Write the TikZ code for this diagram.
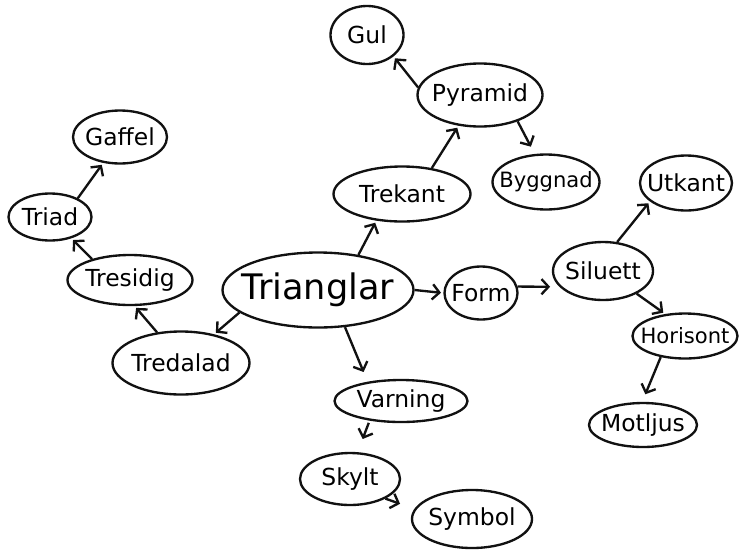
\documentclass[tikz,border=0pt]{standalone}
\usepackage{fontspec}
\setmainfont{DejaVu Sans}
\usetikzlibrary{shapes.geometric, arrows.meta}
\definecolor{inkcolor}{HTML}{111111}

\begin{document}
\begin{tikzpicture}[
  x=0.03cm, y=-0.03cm,
  >={Straight Barb[length=6pt, width=13pt]},
  line width=2pt,
]

\tikzset{
  bubble/.style 2 args={ellipse, draw=inkcolor, inner xsep=-24pt, inner ysep=-9pt,
    minimum width=#1*0.03cm, minimum height=#2*0.03cm,
    font=\fontsize{20}{22}\selectfont},
  tightbubble/.style 2 args={bubble={#1}{#2}, font=\fontsize{18}{20}\selectfont},
  mainbubble/.style 2 args={bubble={#1}{#2}, inner xsep=-40pt, inner ysep=-14pt,
    font=\fontsize{30}{34}\selectfont},
  link/.style={->, inkcolor, shorten >=2pt},
}

\path[use as bounding box, fill=white] (0,0) rectangle (739,553);

% ---------------------------------------------------------------
% Centre and right branch
% ---------------------------------------------------------------
\node[mainbubble={191}{75}]  (trianglar) at (318,290) {Trianglar};
\node[bubble={73}{53}]       (form)      at (481,293) {Form};
\node[bubble={100}{58}]      (siluett)   at (603,271) {Siluett};
\node[bubble={92}{55}]       (utkant)    at (686,183) {Utkant};
\node[tightbubble={105}{45}] (horisont)  at (685,336) {Horisont};
\node[bubble={108}{44}]      (motljus)   at (643,425) {Motljus};

% ---------------------------------------------------------------
% Upper branch
% ---------------------------------------------------------------
\node[bubble={137}{55}]      (trekant) at (402,194) {Trekant};
\node[bubble={125}{63}]      (pyramid) at (480,95)  {Pyramid};
\node[bubble={73}{58}]       (gul)     at (367,35)  {Gul};
\node[tightbubble={107}{55}] (byggnad) at (546,182) {Byggnad};

% ---------------------------------------------------------------
% Lower branch
% ---------------------------------------------------------------
\node[bubble={133}{42}] (varning) at (401,401) {Varning};
\node[bubble={100}{52}] (skylt)   at (350,479) {Skylt};
\node[bubble={120}{58}] (symbol)  at (472,519) {Symbol};

% ---------------------------------------------------------------
% Left branch
% ---------------------------------------------------------------
\node[bubble={137}{63}] (tredalad) at (181,363) {Tredalad};
\node[bubble={125}{50}] (tresidig) at (130,280) {Tresidig};
\node[bubble={83}{47}]  (triad)    at (50,217)  {Triad};
\node[bubble={94}{53}]  (gaffel)   at (120,137) {Gaffel};

% Links
\draw[link] (trianglar.east) -- (form.west);
\draw[link, shorten >=8pt] (form.10) -- (siluett.200);
\draw[link] (siluett.64) -- (utkant.207);
\draw[link] (siluett.326) -- (horisont.132);
\draw[link, shorten >=7pt] (horisont.221) -- (motljus.92);

\draw[link] (trianglar.41) -- (trekant.226);
\draw[link] (trekant.41) -- (pyramid.235);
\draw[link] (pyramid.173) -- (gul.321);
\draw[link, shorten >=7pt] (pyramid.325) -- (byggnad.112);

\draw[link, shorten >=9pt] (trianglar.306) -- (varning.150);
\draw[link, shorten <=2pt, shorten >=12pt] (varning.212) -- (skylt.74);
\draw[link, shorten >=13pt] (skylt.331) -- (symbol.170);

\draw[link] (trianglar.196) -- (tredalad.41);
\draw[link] (tredalad.128) -- (tresidig.280);
\draw[link] (tresidig.151) -- (triad.315);
\draw[link] (triad.34) -- (gaffel.237);

\end{tikzpicture}
\end{document}
